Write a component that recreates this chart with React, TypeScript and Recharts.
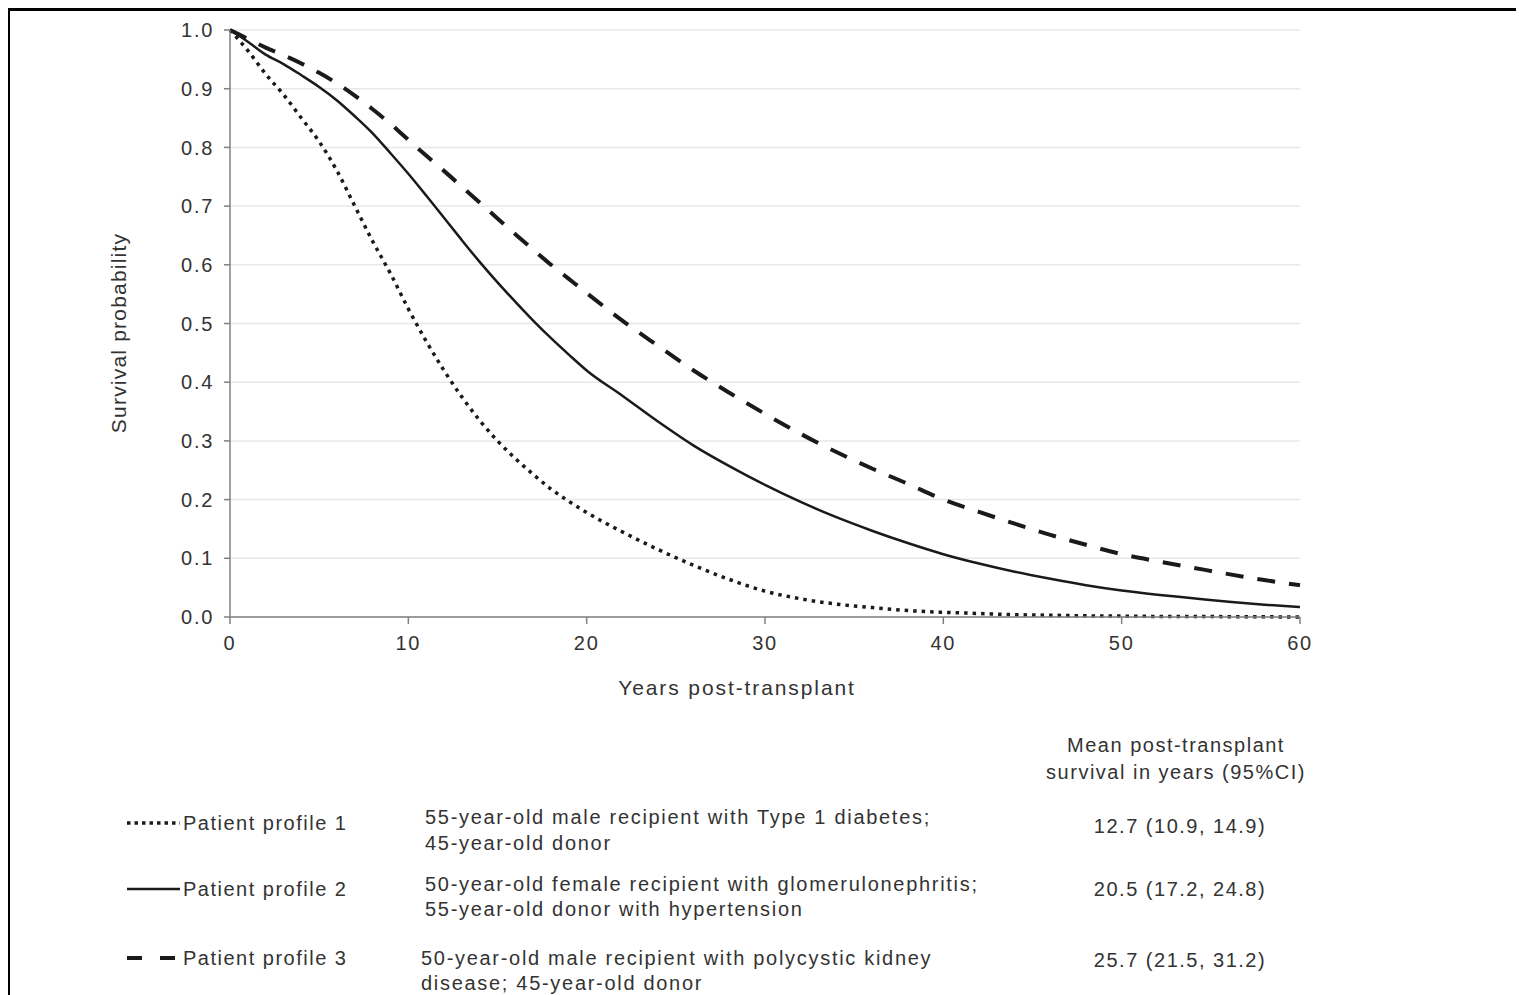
import React from 'react';
import { LineChart, Line, XAxis, YAxis, CartesianGrid } from 'recharts';

// years post-transplant at which the curves are sampled
const years = [
  0, 1, 2, 3, 4, 5, 6, 7, 8, 9, 10, 11, 12, 13, 14, 15, 16, 17, 18, 19, 20,
  22, 24, 26, 28, 30, 32, 34, 36, 38, 40, 42, 44, 46, 48, 50, 52, 54, 56, 58, 60,
];

// survival probability per patient profile
const profile1 = [
  1.0, 0.965, 0.925, 0.89, 0.85, 0.81, 0.76, 0.7, 0.64, 0.585, 0.525, 0.47, 0.42, 0.375, 0.335, 0.3, 0.27, 0.243, 0.218, 0.197, 0.178,
  0.145, 0.115, 0.088, 0.064, 0.044, 0.031, 0.022, 0.016, 0.011, 0.008, 0.006, 0.004, 0.003, 0.002, 0.0015, 0.001, 0.001, 0.0005, 0.0003, 0.0,
];
const profile2 = [
  1.0, 0.98, 0.958, 0.942, 0.923, 0.903, 0.88, 0.853, 0.824, 0.79, 0.755, 0.718, 0.68, 0.642, 0.605, 0.57, 0.537, 0.505, 0.475, 0.447, 0.42,
  0.377, 0.333, 0.292, 0.257, 0.225, 0.196, 0.17, 0.147, 0.126, 0.107, 0.091, 0.077, 0.065, 0.054, 0.045, 0.038, 0.032, 0.026, 0.021, 0.017,
];
const profile3 = [
  1.0, 0.985, 0.97, 0.957, 0.943, 0.927, 0.909, 0.888, 0.865, 0.84, 0.813, 0.786, 0.76, 0.733, 0.706, 0.679, 0.652, 0.626, 0.6, 0.576, 0.552,
  0.505, 0.462, 0.42, 0.382, 0.346, 0.312, 0.281, 0.253, 0.227, 0.2, 0.179, 0.159, 0.14, 0.123, 0.107, 0.095, 0.084, 0.073, 0.063, 0.054,
];

const xTicks = [0, 10, 20, 30, 40, 50, 60];
const yTicks = [0, 0.1, 0.2, 0.3, 0.4, 0.5, 0.6, 0.7, 0.8, 0.9, 1.0];

const profileNames = ['Patient profile 1', 'Patient profile 2', 'Patient profile 3'];
const profileDescriptions = [
  ['55-year-old male recipient with Type 1 diabetes;', '45-year-old donor'],
  ['50-year-old female recipient with glomerulonephritis;', '55-year-old donor with hypertension'],
  ['50-year-old male recipient with polycystic kidney', 'disease; 45-year-old donor'],
];
const meanSurvival = ['12.7 (10.9, 14.9)', '20.5 (17.2, 24.8)', '25.7 (21.5, 31.2)'];
const meanHeader = ['Mean post-transplant', 'survival in years (95%CI)'];

const data = years.map((t, i) => ({
  t,
  p1: profile1[i],
  p2: profile2[i],
  p3: profile3[i],
}));

const FONT = '"Liberation Sans", Arial, sans-serif';
const TEXT = '#333';
const INK = '#1a1a1a';

const lineStyles = [
  { dataKey: 'p1', dash: '3.5 5', width: 3.5 },
  { dataKey: 'p2', dash: undefined, width: 2.5 },
  { dataKey: 'p3', dash: '18 14', width: 4 },
];

const tickStyle = { fontSize: 20, fill: TEXT, fontFamily: FONT, letterSpacing: '1.7px' };

function Legend() {
  const rowY = [115, 181, 250];
  const descY = [
    [109, 135],
    [176, 201],
    [250, 275],
  ];
  const descX = [417, 417, 413];
  const valueY = [118, 181, 252];
  const txt = { fontFamily: FONT, fontSize: 20, fill: TEXT, letterSpacing: '1.5px' } as const;
  const sampleDash = ['3.5 4', undefined, '15 18'];
  const sampleWidth = [3.5, 2.5, 4];

  return (
    <svg
      width={1516}
      height={287}
      style={{ position: 'absolute', left: 0, top: 700 }}
    >
      {meanHeader.map((h, i) => (
        <text key={h} x={1168} y={37 + i * 27} textAnchor="middle" dominantBaseline="central" style={txt}>
          {h}
        </text>
      ))}
      {profileNames.map((name, i) => (
        <g key={name}>
          <line
            x1={119}
            x2={172}
            y1={rowY[i]}
            y2={rowY[i]}
            stroke={INK}
            strokeWidth={sampleWidth[i]}
            strokeDasharray={sampleDash[i]}
          />
          <text x={175} y={rowY[i]} dominantBaseline="central" style={txt}>
            {name}
          </text>
          {profileDescriptions[i].map((line, j) => (
            <text key={line} x={descX[i]} y={descY[i][j]} dominantBaseline="central" style={{ ...txt, letterSpacing: '1.7px' }}>
              {line}
            </text>
          ))}
          <text x={1172} y={valueY[i]} textAnchor="middle" dominantBaseline="central" style={txt}>
            {meanSurvival[i]}
          </text>
        </g>
      ))}
    </svg>
  );
}

export default function App() {
  return (
    <div style={{ position: 'relative', width: 1516, height: 987, background: '#fff', fontFamily: FONT, overflow: 'hidden' }}>
      <div
        style={{
          position: 'absolute',
          left: -1,
          top: 0,
          width: 1520,
          height: 990,
          borderTop: '3px solid #000',
          borderLeft: '3px solid #000',
          boxSizing: 'border-box',
          pointerEvents: 'none',
        }}
      />
      <div style={{ position: 'absolute', left: 0, top: 0 }}>
        <LineChart
          width={1400}
          height={720}
          data={data}
          margin={{ top: 22, right: 108, bottom: 71, left: 162 }}
        >
          <CartesianGrid horizontal vertical={false} stroke="#e8e8e8" strokeWidth={1.5} />
          <XAxis
            dataKey="t"
            type="number"
            domain={[0, 60]}
            ticks={xTicks}
            height={40}
            tickSize={7}
            tickMargin={12}
            axisLine={{ stroke: '#808080', strokeWidth: 1.5 }}
            tickLine={{ stroke: '#808080', strokeWidth: 1.5 }}
            tick={tickStyle}
          />
          <YAxis
            type="number"
            domain={[0, 1]}
            ticks={yTicks}
            width={60}
            tickSize={6}
            tickMargin={10}
            tickFormatter={(v: number) => v.toFixed(1)}
            axisLine={{ stroke: '#808080', strokeWidth: 1.5 }}
            tickLine={{ stroke: '#808080', strokeWidth: 1.5 }}
            tick={tickStyle}
          />
          {lineStyles.map((s) => (
            <Line
              key={s.dataKey}
              dataKey={s.dataKey}
              type="monotone"
              stroke={INK}
              strokeWidth={s.width}
              strokeDasharray={s.dash}
              dot={false}
              activeDot={false}
              isAnimationActive={false}
            />
          ))}
        </LineChart>
      </div>
      <div
        style={{
          position: 'absolute',
          left: 729 - 200,
          top: 680 - 13,
          width: 400,
          height: 26,
          lineHeight: '26px',
          textAlign: 'center',
          fontSize: 21,
          color: TEXT,
          letterSpacing: '1.9px',
        }}
      >
        Years post-transplant
      </div>
      <div
        style={{
          position: 'absolute',
          left: 111 - 150,
          top: 325 - 13,
          width: 300,
          height: 26,
          lineHeight: '26px',
          textAlign: 'center',
          fontSize: 21,
          color: TEXT,
          letterSpacing: '1.2px',
          transform: 'rotate(-90deg)',
        }}
      >
        Survival probability
      </div>
      <Legend />
    </div>
  );
}
